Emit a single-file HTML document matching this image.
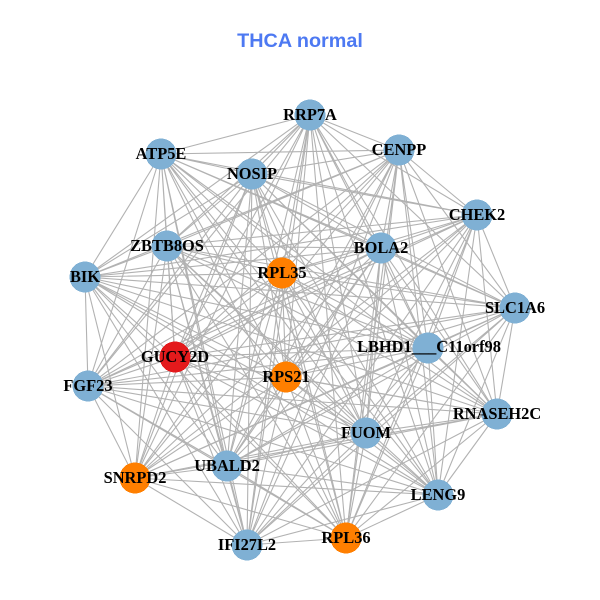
<!DOCTYPE html>
<html><head><meta charset="utf-8"><style>html,body{margin:0;padding:0;background:#fff}svg{display:block}
.n{font:bold 16.4px "Liberation Serif",serif;text-anchor:middle;fill:#000}</style></head><body>
<svg width="600" height="600" viewBox="0 0 600 600" xmlns="http://www.w3.org/2000/svg">
<rect width="600" height="600" fill="#fff"/>
<text x="300" y="47" text-anchor="middle" style="font:bold 19.8px 'Liberation Sans',sans-serif" fill="#4D79F2">THCA normal</text>
<g fill="none" stroke="#b2b2b2" stroke-width="1.1" stroke-linejoin="round">
<path d="M161 154 252 174 161 154 310 115 161 154 399 150 161 154 477 215 161 154 381 248 161 154 515 308 161 154 428 348 161 154 497 414 161 154 366 433 161 154 438 495 161 154 346 538 161 154 247 545 161 154 227 466 161 154 135 478 161 154 88 386 161 154 175 357 161 154 286 377 161 154 282 273 161 154 167 246 161 154 85 277"/>
<path d="M252 174 310 115 252 174 399 150 252 174 477 215 252 174 381 248 252 174 515 308 252 174 428 348 252 174 497 414 252 174 366 433 252 174 438 495 252 174 346 538 252 174 247 545 252 174 227 466 252 174 135 478 252 174 88 386 252 174 175 357 252 174 286 377 252 174 282 273 252 174 167 246 252 174 85 277"/>
<path d="M310 115 399 150 310 115 477 215 310 115 381 248 310 115 515 308 310 115 428 348 310 115 497 414 310 115 366 433 310 115 438 495 310 115 346 538 310 115 247 545 310 115 227 466 310 115 135 478 310 115 88 386 310 115 175 357 310 115 286 377 310 115 282 273 310 115 167 246 310 115 85 277"/>
<path d="M399 150 477 215 399 150 381 248 399 150 515 308 399 150 428 348 399 150 497 414 399 150 366 433 399 150 438 495 399 150 346 538 399 150 247 545 399 150 227 466 399 150 135 478 399 150 88 386 399 150 175 357 399 150 286 377 399 150 282 273 399 150 167 246 399 150 85 277"/>
<path d="M477 215 381 248 477 215 515 308 477 215 428 348 477 215 497 414 477 215 366 433 477 215 438 495 477 215 346 538 477 215 247 545 477 215 227 466 477 215 135 478 477 215 88 386 477 215 175 357 477 215 286 377 477 215 282 273 477 215 167 246 477 215 85 277"/>
<path d="M381 248 515 308 381 248 428 348 381 248 497 414 381 248 366 433 381 248 438 495 381 248 346 538 381 248 247 545 381 248 227 466 381 248 135 478 381 248 88 386 381 248 175 357 381 248 286 377 381 248 282 273 381 248 167 246 381 248 85 277"/>
<path d="M515 308 428 348 515 308 497 414 515 308 366 433 515 308 438 495 515 308 346 538 515 308 247 545 515 308 227 466 515 308 135 478 515 308 88 386 515 308 175 357 515 308 286 377 515 308 282 273 515 308 167 246 515 308 85 277"/>
<path d="M428 348 497 414 428 348 366 433 428 348 438 495 428 348 346 538 428 348 247 545 428 348 227 466 428 348 135 478 428 348 88 386 428 348 175 357 428 348 286 377 428 348 282 273 428 348 167 246 428 348 85 277"/>
<path d="M497 414 366 433 497 414 438 495 497 414 346 538 497 414 247 545 497 414 227 466 497 414 135 478 497 414 88 386 497 414 175 357 497 414 286 377 497 414 282 273 497 414 167 246 497 414 85 277"/>
<path d="M366 433 438 495 366 433 346 538 366 433 247 545 366 433 227 466 366 433 135 478 366 433 88 386 366 433 175 357 366 433 286 377 366 433 282 273 366 433 167 246 366 433 85 277"/>
<path d="M438 495 346 538 438 495 247 545 438 495 227 466 438 495 135 478 438 495 88 386 438 495 175 357 438 495 286 377 438 495 282 273 438 495 167 246 438 495 85 277"/>
<path d="M346 538 247 545 346 538 227 466 346 538 135 478 346 538 88 386 346 538 175 357 346 538 286 377 346 538 282 273 346 538 167 246 346 538 85 277"/>
<path d="M247 545 227 466 247 545 135 478 247 545 88 386 247 545 175 357 247 545 286 377 247 545 282 273 247 545 167 246 247 545 85 277"/>
<path d="M227 466 135 478 227 466 88 386 227 466 175 357 227 466 286 377 227 466 282 273 227 466 167 246 227 466 85 277"/>
<path d="M135 478 88 386 135 478 175 357 135 478 286 377 135 478 282 273 135 478 167 246 135 478 85 277"/>
<path d="M88 386 175 357 88 386 286 377 88 386 282 273 88 386 167 246 88 386 85 277"/>
<path d="M175 357 286 377 175 357 282 273 175 357 167 246 175 357 85 277"/>
<path d="M286 377 282 273 286 377 167 246 286 377 85 277"/>
<path d="M282 273 167 246 282 273 85 277"/>
<path d="M167 246 85 277"/>
</g>
<g fill="#7FB0D4" shape-rendering="crispEdges">
<circle cx="161" cy="154" r="15.5"/><circle cx="252" cy="174" r="15.5"/><circle cx="310" cy="115" r="15.5"/><circle cx="399" cy="150" r="15.5"/><circle cx="477" cy="215" r="15.5"/><circle cx="381" cy="248" r="15.5"/><circle cx="515" cy="308" r="15.5"/><circle cx="428" cy="348" r="15.5"/><circle cx="497" cy="414" r="15.5"/><circle cx="366" cy="433" r="15.5"/><circle cx="438" cy="495" r="15.5"/><circle cx="247" cy="545" r="15.5"/><circle cx="227" cy="466" r="15.5"/><circle cx="88" cy="386" r="15.5"/><circle cx="167" cy="246" r="15.5"/><circle cx="85" cy="277" r="15.5"/>
</g>
<g fill="#FF7F00" shape-rendering="crispEdges">
<circle cx="346" cy="538" r="15.5"/><circle cx="135" cy="478" r="15.5"/><circle cx="286" cy="377" r="15.5"/><circle cx="282" cy="273" r="15.5"/>
</g>
<circle cx="175" cy="357" r="15.5" fill="#E41A1C" shape-rendering="crispEdges"/>
<g class="n">
<text class="n" x="161" y="159">ATP5E</text>
<text class="n" x="252" y="179">NOSIP</text>
<text class="n" x="310" y="120">RRP7A</text>
<text class="n" x="399" y="155">CENPP</text>
<text class="n" x="477" y="220">CHEK2</text>
<text class="n" x="381" y="253">BOLA2</text>
<text class="n" x="515" y="313">SLC1A6</text>
<text class="n" x="429" y="352">LBHD1___C11orf98</text>
<text class="n" x="497" y="419">RNASEH2C</text>
<text class="n" x="366" y="438">FUOM</text>
<text class="n" x="438" y="500">LENG9</text>
<text class="n" x="346" y="543">RPL36</text>
<text class="n" x="247" y="550">IFI27L2</text>
<text class="n" x="227" y="471">UBALD2</text>
<text class="n" x="135" y="483">SNRPD2</text>
<text class="n" x="88" y="391">FGF23</text>
<text class="n" x="175" y="362">GUCY2D</text>
<text class="n" x="286" y="382">RPS21</text>
<text class="n" x="282" y="278">RPL35</text>
<text class="n" x="167" y="251">ZBTB8OS</text>
<text class="n" x="85" y="282">BIK</text>
</g>
</svg>
</body></html>
